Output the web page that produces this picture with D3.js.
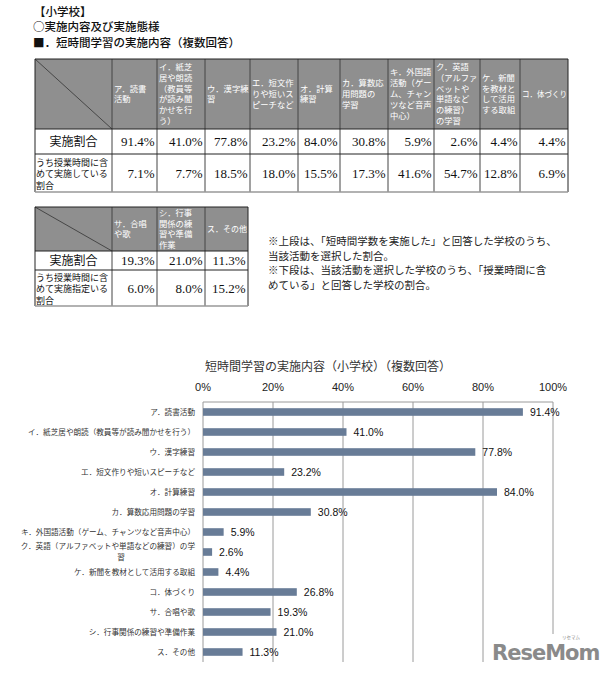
<!DOCTYPE html>
<html>
<head>
<meta charset="utf-8">
<script src="https://cdn.jsdelivr.net/npm/d3@7"></script>
<style>
  body { margin: 0; background: #fff; }
  svg { display: block; font-family: "Noto Sans CJK JP", sans-serif; }
</style>
</head>
<body>
<div id="chart"></div>
<script>
// 表の見出し（セル内の改行ごと）
const table1Heads = [
  ["ア．読書", "活動"],
  ["イ．紙芝", "居や朗読", "（教員等", "が読み聞", "かせを行", "う）"],
  ["ウ．漢字練", "習"],
  ["エ．短文作", "りや短いス", "ピーチなど"],
  ["オ．計算", "練習"],
  ["カ．算数応", "用問題の", "学習"],
  ["キ．外国語", "活動（ゲー", "ム、チャン", "ツなど音声", "中心）"],
  ["ク．英語", "（アルファ", "ベットや", "単語など", "の練習）", "の学習"],
  ["ケ．新聞", "を教材と", "して活用", "する取組"],
  ["コ．体づくり"]
];
const table1Top = [91.4, 41.0, 77.8, 23.2, 84.0, 30.8, 5.9, 2.6, 4.4, 4.4];
const table1Bottom = [7.1, 7.7, 18.5, 18.0, 15.5, 17.3, 41.6, 54.7, 12.8, 6.9];
const table1RowLabels = ["実施割合", ["うち授業時間に含", "めて実施している", "割合"]];

const table2Heads = [
  ["サ．合唱", "や歌"],
  ["シ．行事", "関係の練", "習や準備", "作業"],
  ["ス．その他"]
];
const table2Top = [19.3, 21.0, 11.3];
const table2Bottom = [6.0, 8.0, 15.2];
const table2RowLabels = ["実施割合", ["うち授業時間に含", "めて実施指定いる", "割合"]];

const notes = [
  "※上段は、「短時間学数を実施した」と回答した学校のうち、",
  "当該活動を選択した割合。",
  "※下段は、当該活動を選択した学校のうち、「授業時間に含",
  "めている」と回答した学校の割合。"
];

// グラフのデータ
const chartTitle = "短時間学習の実施内容（小学校）（複数回答）";
const categories = [
  "ア．読書活動",
  "イ．紙芝居や朗読（教員等が読み聞かせを行う）",
  "ウ．漢字練習",
  "エ．短文作りや短いスピーチなど",
  "オ．計算練習",
  "カ．算数応用問題の学習",
  "キ．外国語活動（ゲーム、チャンツなど音声中心）",
  "ク．英語（アルファベットや単語などの練習）の学|習",
  "ケ．新聞を教材として活用する取組",
  "コ．体づくり",
  "サ．合唱や歌",
  "シ．行事関係の練習や準備作業",
  "ス．その他"
];
const values = [91.4, 41.0, 77.8, 23.2, 84.0, 30.8, 5.9, 2.6, 4.4, 26.8, 19.3, 21.0, 11.3];
const xTicks = [0, 20, 40, 60, 80, 100];

const W = 605, H = 676;
const svg = d3.select("#chart").append("svg").attr("width", W).attr("height", H);

// 見出し
const heading = [
  { t: "【小学校】", x: 34, y: 16 },
  { t: "○実施内容及び実施態様", x: 33, y: 31 },
  { t: "■．短時間学習の実施内容（複数回答）", x: 33, y: 47 }
];
svg.selectAll("text.head").data(heading).join("text")
  .attr("class", "head")
  .attr("x", d => d.x).attr("y", d => d.y)
  .attr("font-size", 11.5).attr("font-weight", 500).attr("fill", "#111")
  .text(d => d.t);

const fmt = v => d3.format(".1f")(v) + "%";

// 表を描く関数
function drawTable(g, edges, rows, heads, top, bottom, rowLabels) {
  const [y0, y1, y2, y3] = rows;
  const x0 = edges[0], xEnd = edges[edges.length - 1];
  // 見出し行の背景
  g.append("rect").attr("x", x0).attr("y", y0).attr("width", xEnd - x0).attr("height", y1 - y0)
    .attr("fill", "#8f8f8f");
  // 斜線
  g.append("line").attr("x1", x0).attr("y1", y0).attr("x2", edges[1]).attr("y2", y1)
    .attr("stroke", "#333").attr("stroke-width", 0.8);
  // 見出しテキスト（セル幅からはみ出す行は縮める）
  heads.forEach((lines, i) => {
    const xl = edges[i + 1] + 2;
    const maxW = edges[i + 2] - edges[i + 1] - 3;
    const lh = 10.8;
    const cy = (y0 + y1) / 2 - (lines.length - 1) * lh / 2;
    g.append("text").attr("x", xl).attr("y", cy + 3)
      .attr("fill", "#fff").attr("font-size", 8.3)
      .selectAll("tspan").data(lines).join("tspan")
      .attr("x", xl).attr("dy", (d, k) => k === 0 ? 0 : lh).text(d => d)
      .each(function() {
        if (this.getComputedTextLength() > maxW) {
          d3.select(this).attr("textLength", maxW).attr("lengthAdjust", "spacingAndGlyphs");
        }
      });
  });
  // 値
  const valRow = (arr, yy) => {
    arr.forEach((v, i) => {
      g.append("text").attr("x", edges[i + 2] - 2.5).attr("y", yy)
        .attr("text-anchor", "end").attr("font-family", "Liberation Serif, serif")
        .attr("font-size", 13).attr("fill", "#111").text(fmt(v));
    });
  };
  valRow(top, (y1 + y2) / 2 + 4.5);
  valRow(bottom, (y2 + y3) / 2 + 4.5);
  // 行ラベル
  g.append("text").attr("x", (edges[0] + edges[1]) / 2).attr("y", (y1 + y2) / 2 + 4.5)
    .attr("text-anchor", "middle").attr("font-size", 12).attr("fill", "#111").text(rowLabels[0]);
  const l2 = rowLabels[1];
  g.append("text").attr("x", x0 + 1).attr("y", (y2 + y3) / 2 - 11 + 3.5)
    .attr("font-size", 9).attr("fill", "#111")
    .selectAll("tspan").data(l2).join("tspan")
    .attr("x", x0 + 1).attr("dy", (d, k) => k === 0 ? 0 : 11.5).text(d => d);
  // 罫線
  edges.forEach((x, i) => {
    g.append("line").attr("x1", x).attr("x2", x).attr("y1", y0).attr("y2", y3)
      .attr("stroke", i === 0 || i === edges.length - 1 ? "#222" : "#444").attr("stroke-width", 1);
  });
  [y0, y1, y2, y3].forEach((y, i) => {
    g.append("line").attr("x1", x0).attr("x2", xEnd).attr("y1", y).attr("y2", y)
      .attr("stroke", i === 3 ? "#999" : "#222").attr("stroke-width", i === 3 ? 1.5 : 1);
  });
}

const edges1 = [35, 112, 157, 205, 250, 298, 340, 388, 434, 480, 520, 568];
drawTable(svg.append("g"), edges1, [59, 129, 154, 192], table1Heads, table1Top, table1Bottom, table1RowLabels);
const edges2 = [35, 112, 157, 205, 248];
drawTable(svg.append("g"), edges2, [207, 251, 270, 306], table2Heads, table2Top, table2Bottom, table2RowLabels);

// 注記
svg.append("g").selectAll("text").data(notes).join("text")
  .attr("x", 268).attr("y", (d, i) => 245 + i * 14.5)
  .attr("font-size", 10.5).attr("fill", "#222").text(d => d);

// 棒グラフ
const x = d3.scaleLinear().domain([0, 100]).range([203, 553]);
const y = d3.scaleBand().domain(categories).range([402, 662]).paddingInner(0.62).paddingOuter(0.31);

const chart = svg.append("g");
chart.append("text").attr("x", 328).attr("y", 371).attr("text-anchor", "middle")
  .attr("font-size", 12).attr("fill", "#333").text(chartTitle);

// グリッド
chart.selectAll("line.grid").data(xTicks).join("line")
  .attr("class", "grid")
  .attr("x1", d => x(d)).attr("x2", d => x(d)).attr("y1", 402).attr("y2", 662)
  .attr("stroke", "#9a9a9a").attr("stroke-width", 1);
chart.append("line").attr("x1", x(0)).attr("x2", x(100)).attr("y1", 402).attr("y2", 402)
  .attr("stroke", "#9a9a9a");

// 目盛ラベル（上）
chart.selectAll("text.tick").data(xTicks).join("text")
  .attr("class", "tick")
  .attr("x", d => x(d)).attr("y", 391).attr("text-anchor", "middle")
  .attr("font-family", "Liberation Sans, Arial, sans-serif").attr("font-size", 11).attr("fill", "#222")
  .text(d => d + "%");

// 棒
chart.selectAll("rect.bar").data(values).join("rect")
  .attr("class", "bar")
  .attr("x", x(0)).attr("y", (d, i) => y(categories[i]))
  .attr("width", d => x(d) - x(0)).attr("height", y.bandwidth())
  .attr("fill", "#687c97");

// 値ラベル
chart.selectAll("text.val").data(values).join("text")
  .attr("class", "val")
  .attr("x", d => x(d) + 7).attr("y", (d, i) => y(categories[i]) + y.bandwidth() / 2 + 4)
  .attr("font-family", "Liberation Sans, Arial, sans-serif").attr("font-size", 10.5).attr("fill", "#111")
  .text(d => fmt(d));

// カテゴリラベル（| で改行）
categories.forEach((c, i) => {
  const parts = c.split("|");
  const cy = y(c) + y.bandwidth() / 2;
  const t = chart.append("text").attr("font-size", 7.6).attr("fill", "#333");
  if (parts.length === 1) {
    t.attr("x", 195).attr("y", cy + 2.8).attr("text-anchor", "end").text(c);
  } else {
    t.append("tspan").attr("x", 195).attr("y", cy - 2.8).attr("text-anchor", "end").text(parts[0]);
    t.append("tspan").attr("x", 121).attr("y", cy + 7.6).attr("text-anchor", "middle").text(parts[1]);
  }
});

// ロゴ
const logo = svg.append("g");
logo.append("rect").attr("x", 490).attr("y", 634).attr("width", 92).attr("height", 30).attr("fill", "#fff");
logo.append("text").attr("x", 492).attr("y", 660)
  .attr("font-family", "DejaVu Sans, sans-serif").attr("font-weight", "bold")
  .attr("font-size", 21).attr("fill", "#8a8a8a").attr("letter-spacing", -1).text("ReseMom");
logo.append("text").attr("x", 562).attr("y", 639)
  .attr("font-size", 4.5).attr("fill", "#8a8a8a").text("リセマム");
</script>
</body>
</html>
